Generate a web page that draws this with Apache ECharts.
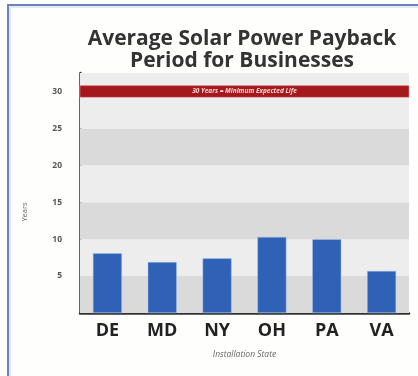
<!DOCTYPE html>
<html>
<head>
<meta charset="utf-8">
<script src="https://cdn.jsdelivr.net/npm/echarts@6/dist/echarts.min.js"></script>
<style>
  html, body { margin: 0; padding: 0; background: #ffffff; }
  #chart { width: 418px; height: 376px; }
</style>
</head>
<body>
<div id="chart"></div>
<script>
const categories = ['DE', 'MD', 'NY', 'OH', 'PA', 'VA'];
const paybackYears = [8.1, 6.9, 7.4, 10.3, 10.0, 5.7];
const yTicks = [0, 5, 10, 15, 20, 25, 30];
const lifeLine = 30;
const lifeLabel = '30 Years = Minimum Expected Life';
const titleLines = ['Average Solar Power Payback', 'Period for Businesses'];

const bandColors = ['#dadada', '#ededed'];
const bands = [];
for (let i = 0; i < yTicks.length; i++) {
  const lo = yTicks[i];
  const hi = i + 1 < yTicks.length ? yTicks[i + 1] : 32.5;
  bands.push([{ yAxis: lo, itemStyle: { color: bandColors[i === yTicks.length - 1 ? 1 : i % 2] } }, { yAxis: hi }]);
}

const chart = echarts.init(document.getElementById('chart'));
chart.setOption({
  animation: false,
  backgroundColor: '#fefefd',
  grid: { left: 80, right: 9, top: 73, bottom: 63, containLabel: false },
  graphic: [
    { type: 'rect', shape: { x: 8, y: 5, width: 430, height: 390 }, style: { fill: 'none', stroke: '#6b82bd', lineWidth: 2 }, z: 100 },
    { type: 'rect', shape: { x: 10, y: 7, width: 430, height: 390 }, style: { fill: 'none', stroke: '#c9d6ee', lineWidth: 1 }, z: 100 },
    { type: 'text', x: 242, y: 39, style: { text: titleLines[0], font: 'bold 21px "Open Sans"', fill: '#333333', textAlign: 'center', textVerticalAlign: 'middle' } },
    { type: 'text', x: 242, y: 61, style: { text: titleLines[1], font: 'bold 21px "Open Sans"', fill: '#333333', textAlign: 'center', textVerticalAlign: 'middle' } },
    { type: 'text', x: 25, y: 212, rotation: Math.PI / 2, style: { text: 'Years', font: '7.5px "Open Sans"', fill: '#666666', textAlign: 'center', textVerticalAlign: 'middle' } }
  ],
  xAxis: {
    type: 'category',
    data: categories,
    name: 'Installation State',
    nameLocation: 'middle',
    nameGap: 37,
    nameTextStyle: { fontFamily: 'Open Sans', fontStyle: 'italic', fontSize: 8.5, color: '#666666' },
    axisLine: { lineStyle: { color: '#333333', width: 2.5 } },
    axisTick: { show: false },
    axisLabel: { fontFamily: 'Open Sans', fontWeight: 'bold', fontSize: 18, color: '#222222', margin: 9 }
  },
  yAxis: {
    type: 'value',
    min: 0,
    max: 32.5,
    interval: 5,
    axisLine: { show: true, lineStyle: { color: '#333333', width: 2.5 } },
    axisTick: { show: false },
    splitLine: { show: false },
    axisLabel: {
      showMinLabel: false,
      showMaxLabel: false,
      fontFamily: 'Open Sans', fontWeight: 'bold', fontSize: 8.5, color: '#555555', margin: 18,
      formatter: v => (v === 0 ? '' : String(v))
    }
  },
  series: [{
    type: 'bar',
    data: paybackYears,
    barWidth: 29,
    itemStyle: { color: '#2f62b6', borderColor: '#a9c0e6', borderWidth: 0.5 },
    z: 3,
    markArea: {
      silent: true,
      z: 1,
      data: bands
    }
  }, {
    type: 'line',
    data: [],
    markArea: {
      silent: true,
      z: 2,
      itemStyle: { color: '#a5181c', borderColor: '#e8a0a0', borderWidth: 0.5 },
      label: { show: true, position: 'inside', color: '#f4d6d6', fontFamily: 'Open Sans', fontStyle: 'italic', fontWeight: 'bold', fontSize: 6.5 },
      data: [[{ yAxis: lifeLine - 0.8, name: lifeLabel }, { yAxis: lifeLine + 0.8 }]]
    }
  }]
});
</script>
</body>
</html>
